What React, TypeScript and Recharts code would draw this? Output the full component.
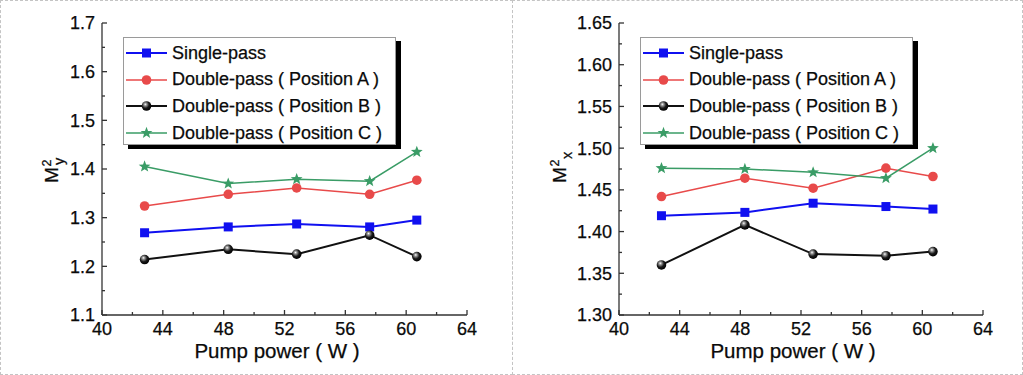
import { LineChart, Line, XAxis, YAxis, Legend } from "recharts";

// Pump power (W) — same five points for both panels
const POWER = [42.8, 48.3, 52.8, 57.6, 60.7];

// M²y (left panel)
const MY_SINGLE = [1.269, 1.281, 1.287, 1.281, 1.295];
const MY_POS_A = [1.324, 1.348, 1.361, 1.348, 1.377];
const MY_POS_B = [1.214, 1.235, 1.225, 1.264, 1.22];
const MY_POS_C = [1.405, 1.37, 1.379, 1.375, 1.435];

// M²x (right panel)
const MX_SINGLE = [1.419, 1.423, 1.434, 1.43, 1.427];
const MX_POS_A = [1.442, 1.464, 1.452, 1.476, 1.466];
const MX_POS_B = [1.36, 1.408, 1.373, 1.371, 1.376];
const MX_POS_C = [1.476, 1.475, 1.471, 1.464, 1.5];

const SERIES_NAMES = [
  "Single-pass",
  "Double-pass ( Position A )",
  "Double-pass ( Position B )",
  "Double-pass ( Position C )",
];

const X_MAJOR = [40, 44, 48, 52, 56, 60, 64];
const X_MINOR = [42, 46, 50, 54, 58, 62];
const MY_MAJOR = [1.1, 1.2, 1.3, 1.4, 1.5, 1.6, 1.7];
const MY_MINOR = [1.15, 1.25, 1.35, 1.45, 1.55, 1.65];
const MX_MAJOR = [1.3, 1.35, 1.4, 1.45, 1.5, 1.55, 1.6, 1.65];
const MX_MINOR = [1.325, 1.375, 1.425, 1.475, 1.525, 1.575, 1.625];

const X_TITLE = "Pump power ( W )";

const FONT = "'Liberation Sans', Arial, sans-serif";
const AXIS = "#333";
const INK = "#0a0a0a";
const KEYS = ["single", "posA", "posB", "posC"] as const;
const COLORS = ["#1010f0", "#e84a4a", "#111111", "#3a9c66"];
const WIDTHS = [2, 1.5, 2, 1.5];

function starPath(cx: number, cy: number, R: number, r: number) {
  let d = "";
  for (let i = 0; i < 10; i++) {
    const a = -Math.PI / 2 + (i * Math.PI) / 5;
    const rad = i % 2 === 0 ? R : r;
    d += (i === 0 ? "M" : "L") + (cx + rad * Math.cos(a)).toFixed(2) + "," + (cy + rad * Math.sin(a)).toFixed(2);
  }
  return d + "Z";
}

function Marker({ kind, cx, cy }: { kind: number; cx: number; cy: number }) {
  if (kind === 0) return <rect x={cx - 4.5} y={cy - 4.5} width={9} height={9} fill={COLORS[0]} />;
  if (kind === 1) return <circle cx={cx} cy={cy} r={4.8} fill={COLORS[1]} />;
  if (kind === 2) return <circle cx={cx} cy={cy} r={4.8} fill="url(#sphereGrad)" />;
  return <path d={starPath(cx, cy, 6.2, 2.6)} fill={COLORS[3]} />;
}

const near = (arr: number[], v: number) => arr.some((m) => Math.abs(m - v) < 1e-6);

// inward ticks, major longer than minor; labels only on majors
function makeTick(side: "bottom" | "top" | "left" | "right", majors: number[], fmt?: (v: number) => string) {
  return (props: any) => {
    const { x, y, payload } = props;
    const v = payload.value as number;
    const major = near(majors, v);
    const len = major ? 5 : 3;
    let line;
    if (side === "bottom") line = <line x1={x} y1={y} x2={x} y2={y - len} />;
    else if (side === "top") line = <line x1={x} y1={y} x2={x} y2={y + len} />;
    else if (side === "left") line = <line x1={x} y1={y} x2={x + len} y2={y} />;
    else line = <line x1={x} y1={y} x2={x - len} y2={y} />;
    return (
      <g>
        <g stroke={AXIS} strokeWidth={1.3}>{line}</g>
        {major && fmt && side === "bottom" && (
          <text x={x} y={y + 20} textAnchor="middle" fontSize={18} fill={INK} stroke={INK} strokeWidth={0.25} fontFamily={FONT}>
            {fmt(v)}
          </text>
        )}
        {major && fmt && side === "left" && (
          <text x={x - 7} y={y} dy="0.36em" textAnchor="end" fontSize={18} fill={INK} stroke={INK} strokeWidth={0.25} fontFamily={FONT}>
            {fmt(v)}
          </text>
        )}
      </g>
    );
  };
}

function XTitle({ centerX, baseY }: { centerX: number; baseY: number }) {
  return (
    <text x={centerX} y={baseY} textAnchor="middle" fontSize={20.5} fill={INK} stroke={INK} strokeWidth={0.25} fontFamily={FONT}>
      {X_TITLE}
    </text>
  );
}

function YTitle({ cx, cy, sub, subX }: { cx: number; cy: number; sub: string; subX: number }) {
  return (
    <g transform={`translate(${cx},${cy}) rotate(-90)`} fontFamily={FONT} fill={INK} stroke={INK} strokeWidth={0.25}>
      <text x={-15} y={0} fontSize={19}>M</text>
      <text x={1.5} y={-7} fontSize={12.5}>2</text>
      <text x={subX} y={6} fontSize={14.5}>{sub}</text>
    </g>
  );
}

function LegendBox() {
  return (
    <div
      style={{
        width: 273,
        height: 108,
        boxSizing: "border-box",
        border: "1px solid #9a9a9a",
        background: "#fff",
        boxShadow: "5px 4px 0 #000",
        paddingTop: 2,
        fontFamily: FONT,
      }}
    >
      {SERIES_NAMES.map((name, i) => (
        <div key={name} style={{ height: 26.6, display: "flex", alignItems: "center" }}>
          <svg width={48} height={16} style={{ display: "block" }}>
            <line x1={2} y1={8} x2={43} y2={8} stroke={COLORS[i]} strokeWidth={WIDTHS[i]} />
            <Marker kind={i} cx={22.5} cy={8} />
          </svg>
          <span style={{ fontSize: 18, color: INK, whiteSpace: "nowrap", WebkitTextStroke: "0.25px #0a0a0a" }}>{name}</span>
        </div>
      ))}
    </div>
  );
}

type PanelProps = {
  left: number;
  width: number;
  marginLeft: number;
  marginRight: number;
  series: number[][];
  yDomain: [number, number];
  yMajor: number[];
  yMinor: number[];
  yFmt: (v: number) => string;
  sub: string;
  subX: number;
  titleCx: number;
  xTitleCx: number;
  legendLeft: number;
};

function Panel(p: PanelProps) {
  const rows = POWER.map((x, i) => ({
    power: x,
    single: p.series[0][i],
    posA: p.series[1][i],
    posB: p.series[2][i],
    posC: p.series[3][i],
  }));
  const xTicks = [...X_MAJOR, ...X_MINOR].sort((a, b) => a - b);
  const yTicks = [...p.yMajor, ...p.yMinor].sort((a, b) => a - b);
  return (
    <div style={{ position: "absolute", left: p.left, top: 0 }}>
      <LineChart
        width={p.width}
        height={375}
        data={rows}
        margin={{ top: 23, right: p.marginRight, bottom: 30, left: p.marginLeft }}
      >
        <XAxis
          dataKey="power"
          type="number"
          domain={[40, 64]}
          ticks={xTicks}
          interval={0}
          height={30}
          tickSize={0}
          tickMargin={0}
          tickLine={false}
          axisLine={{ stroke: AXIS, strokeWidth: 1.3 }}
          tick={makeTick("bottom", X_MAJOR, (v) => String(v))}
          allowDataOverflow
          label={<XTitle centerX={p.xTitleCx} baseY={357.5} />}
        />
        <XAxis
          xAxisId="top"
          orientation="top"
          dataKey="power"
          type="number"
          domain={[40, 64]}
          ticks={xTicks}
          interval={0}
          height={0}
          tickSize={0}
          tickMargin={0}
          tickLine={false}
          axisLine={{ stroke: AXIS, strokeWidth: 1.3 }}
          tick={makeTick("top", X_MAJOR)}
          allowDataOverflow
        />
        <YAxis
          type="number"
          domain={p.yDomain}
          ticks={yTicks}
          interval={0}
          width={60}
          tickSize={0}
          tickMargin={0}
          tickLine={false}
          axisLine={{ stroke: AXIS, strokeWidth: 1.3 }}
          tick={makeTick("left", p.yMajor, p.yFmt)}
          allowDataOverflow
          label={<YTitle cx={p.titleCx} cy={168} sub={p.sub} subX={p.subX} />}
        />
        <YAxis
          yAxisId="right"
          orientation="right"
          type="number"
          domain={p.yDomain}
          ticks={yTicks}
          interval={0}
          width={0}
          tickSize={0}
          tickMargin={0}
          tickLine={false}
          axisLine={{ stroke: AXIS, strokeWidth: 1.3 }}
          tick={makeTick("right", p.yMajor)}
          allowDataOverflow
        />
        {KEYS.map((k, i) => (
          <Line
            key={k}
            dataKey={k}
            name={SERIES_NAMES[i]}
            type="linear"
            stroke={COLORS[i]}
            strokeWidth={WIDTHS[i]}
            isAnimationActive={false}
            dot={(d: any) => <Marker key={`${k}-${d.index}`} kind={i} cx={d.cx} cy={d.cy} />}
            activeDot={false}
          />
        ))}
        <Legend
          layout="vertical"
          align="center"
          verticalAlign="middle"
          wrapperStyle={{ left: p.legendLeft, top: 37, width: 273, height: 108 }}
          content={() => <LegendBox />}
        />
      </LineChart>
    </div>
  );
}

export default function App() {
  return (
    <div style={{ position: "relative", width: 1023, height: 375, background: "#fff" }}>
      <style>{`body{margin:0;}`}</style>
      <svg width={0} height={0} style={{ position: "absolute" }}>
        <defs>
          <radialGradient id="sphereGrad" cx="0.4" cy="0.38" r="0.62" fx="0.38" fy="0.32">
            <stop offset="0" stopColor="#ffffff" />
            <stop offset="0.22" stopColor="#9a9a9a" />
            <stop offset="0.6" stopColor="#1a1a1a" />
            <stop offset="1" stopColor="#000000" />
          </radialGradient>
        </defs>
      </svg>
      <div style={{ position: "absolute", left: 0, top: 0, width: 513, height: 375, boxSizing: "border-box", border: "1px dashed #c4c4c4" }} />
      <div style={{ position: "absolute", left: 512, top: 0, width: 511, height: 375, boxSizing: "border-box", border: "1px dashed #c4c4c4" }} />
      <Panel
        left={0}
        width={512}
        marginLeft={42}
        marginRight={45}
        series={[MY_SINGLE, MY_POS_A, MY_POS_B, MY_POS_C]}
        yDomain={[1.1, 1.7]}
        yMajor={MY_MAJOR}
        yMinor={MY_MINOR}
        yFmt={(v) => v.toFixed(1)}
        sub="y"
        subX={3}
        titleCx={58}
        xTitleCx={277}
        legendLeft={123}
      />
      <Panel
        left={512}
        width={511}
        marginLeft={47}
        marginRight={40}
        series={[MX_SINGLE, MX_POS_A, MX_POS_B, MX_POS_C]}
        yDomain={[1.3, 1.65]}
        yMajor={MX_MAJOR}
        yMinor={MX_MINOR}
        yFmt={(v) => v.toFixed(2)}
        sub="x"
        subX={9}
        titleCx={53.5}
        xTitleCx={281}
        legendLeft={128}
      />
    </div>
  );
}
